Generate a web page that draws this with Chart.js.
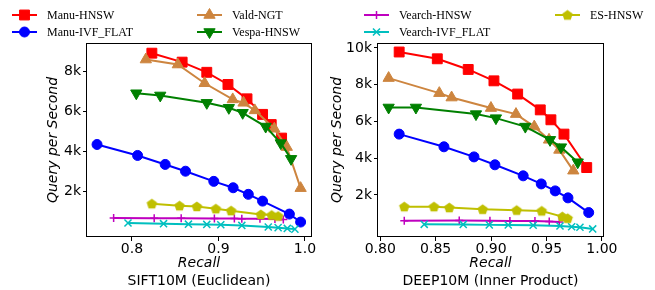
<!DOCTYPE html>
<html><head><meta charset="utf-8">
<script src="https://cdn.jsdelivr.net/npm/chart.js@4"></script>
<style>
html,body{margin:0;padding:0;background:#fff;}
#wrap{position:relative;width:655px;height:290px;overflow:hidden;background:#fff;}
#wrap canvas{position:absolute;top:0;}
</style></head><body>
<div id="wrap">
<canvas id="c1" width="330" height="290" style="left:0px"></canvas>
<canvas id="c2" width="325" height="290" style="left:330px"></canvas>
</div>
<script>
// ---------- data ----------
const seriesNames = ['Manu-HNSW','Manu-IVF_FLAT','Vald-NGT','Vespa-HNSW','Vearch-HNSW','Vearch-IVF_FLAT','ES-HNSW'];

// SIFT10M (Euclidean)
const siftManuHnswRecall = [0.823,0.858,0.8865,0.911,0.933,0.951,0.961,0.973];
const siftManuHnswQps    = [8920,8470,7960,7350,6630,5850,5340,4660];
const siftManuIvfRecall  = [0.7596,0.8065,0.8384,0.8619,0.8946,0.917,0.9345,0.951,0.982,0.995];
const siftManuIvfQps     = [4340,3790,3340,3000,2490,2170,1840,1500,850,450];
const siftValdRecall     = [0.816,0.853,0.884,0.9165,0.929,0.942,0.9646,0.979,0.995];
const siftValdQps        = [8600,8350,7410,6600,6430,6050,5130,4210,2150];
const siftVespaRecall    = [0.805,0.8327,0.8865,0.912,0.928,0.9546,0.972,0.984];
const siftVespaQps       = [6910,6800,6430,6180,5930,5240,4410,3620];
const siftVearchHnswRecall = [0.7788,0.8257,0.8569,0.8953,0.9184,0.927,0.948,0.9653,0.975];
const siftVearchHnswQps    = [650,645,640,630,625,620,610,600,580];
const siftVearchIvfRecall  = [0.7954,0.8365,0.8653,0.8865,0.9027,0.927,0.9576,0.969,0.9796,0.9884];
const siftVearchIvfQps     = [400,370,345,330,315,280,200,170,130,95];
const siftEsRecall       = [0.823,0.855,0.875,0.897,0.9146,0.949,0.9615,0.969];
const siftEsQps          = [1370,1270,1230,1120,1020,830,800,750];

// DEEP10M (Inner Product)
const deepManuHnswRecall = [0.8171,0.8515,0.8794,0.9026,0.924,0.9444,0.954,0.9658,0.9863];
const deepManuHnswQps    = [9780,9410,8830,8210,7490,6630,6090,5310,3490];
const deepManuIvfRecall  = [0.8171,0.8575,0.8846,0.9035,0.929,0.9453,0.9579,0.9694,0.9881];
const deepManuIvfQps     = [5310,4620,4070,3640,3040,2600,2220,1840,1040];
const deepValdRecall     = [0.8076,0.8533,0.8644,0.8999,0.9225,0.939,0.9523,0.9616,0.9742];
const deepValdQps        = [8360,7540,7300,6730,6400,5720,5000,4450,3320];
const deepVespaRecall    = [0.8076,0.8322,0.8864,0.9044,0.9309,0.9532,0.9631,0.9782];
const deepVespaQps       = [6760,6760,6400,6180,5720,5000,4600,3780];
const deepVearchHnswRecall = [0.8217,0.8713,0.899,0.917,0.9396,0.9525,0.9616];
const deepVearchHnswQps    = [600,610,590,585,575,550,530];
const deepVearchIvfRecall  = [0.8397,0.8749,0.8984,0.9155,0.938,0.9622,0.9727,0.9802,0.9917];
const deepVearchIvfQps     = [400,395,370,360,350,310,270,240,150];
const deepEsRecall       = [0.8217,0.8485,0.8623,0.8924,0.9231,0.9457,0.9643,0.9691];
const deepEsQps          = [1360,1360,1310,1220,1170,1130,820,730];

// ticks
const siftXTicks = [0.8, 0.9, 1.0];
const siftXTickLabels = ['0.8','0.9','1.0'];
const siftYTicks = [2000, 4000, 6000, 8000];
const siftYTickLabels = ['2k','4k','6k','8k'];
const deepXTicks = [0.80, 0.85, 0.90, 0.95, 1.00];
const deepXTickLabels = ['0.80','0.85','0.90','0.95','1.00'];
const deepYTicks = [2000, 4000, 6000, 8000, 10000];
const deepYTickLabels = ['2k','4k','6k','8k','10k'];

const xTitle = 'Recall';
const yTitle = 'Query per Second';
const siftSubtitle = 'SIFT10M (Euclidean)';
const deepSubtitle = 'DEEP10M (Inner Product)';

// ---------- styles ----------
function pentagonCanvas(color, r) {
  const c = document.createElement('canvas');
  const s = Math.ceil(r * 2) + 2;
  c.width = s; c.height = s;
  const g = c.getContext('2d');
  g.beginPath();
  for (let k = 0; k < 5; k++) {
    const a = -Math.PI / 2 + k * 2 * Math.PI / 5;
    const px = s / 2 + r * Math.cos(a), py = s / 2 + r * Math.sin(a) + 0.4;
    if (k === 0) g.moveTo(px, py); else g.lineTo(px, py);
  }
  g.closePath();
  g.fillStyle = color; g.fill();
  return c;
}
const styles = [
  {color:'#ff0000', pointStyle:'rect', radius:7, rotation:0},
  {color:'#0000ff', pointStyle:'circle', radius:5, rotation:0},
  {color:'#cd853f', pointStyle:'triangle', radius:6.5, rotation:0},
  {color:'#008000', pointStyle:'triangle', radius:6.5, rotation:180},
  {color:'#bf00bf', pointStyle:'cross', radius:4, rotation:0},
  {color:'#00bfbf', pointStyle:'crossRot', radius:5, rotation:0},
  {color:'#bfbf00', pointStyle:pentagonCanvas('#bfbf00', 5.5), radius:5.5, rotation:0},
];

function toPoints(xs, ys) { return xs.map((x, i) => ({x: x, y: ys[i]})); }

function buildDatasets(pairs) {
  return pairs.map((p, i) => {
    const st = styles[i];
    const isLineMarker = st.pointStyle === 'cross' || st.pointStyle === 'crossRot';
    return {
      label: seriesNames[i],
      data: toPoints(p[0], p[1]),
      borderColor: st.color,
      backgroundColor: st.color,
      borderWidth: 2,
      pointStyle: st.pointStyle,
      pointRadius: st.radius,
      pointRotation: st.rotation,
      pointBorderWidth: isLineMarker ? 1.5 : 1,
      pointBorderColor: st.color,
      pointBackgroundColor: st.color,
      tension: 0,
      fill: false,
      clip: false,
      order: -i
    };
  });
}

const FONT = '"DejaVu Sans", "Liberation Sans", sans-serif';

const framePlugin = {
  id: 'frame',
  afterDatasetsDraw(chart) {
    const a = chart.chartArea, ctx = chart.ctx;
    ctx.save();
    ctx.strokeStyle = '#000';
    ctx.lineWidth = 1;
    ctx.strokeRect(Math.round(a.left) - 0.5, Math.round(a.top) + 0.5,
                   Math.round(a.right) - Math.round(a.left) + 1, Math.round(a.bottom) - Math.round(a.top) - 1);
    ctx.restore();
  }
};

function drawMarker(ctx, st, x, y) {
  ctx.save();
  ctx.fillStyle = st.color; ctx.strokeStyle = st.color;
  const isLineMarker = st.pointStyle === 'cross' || st.pointStyle === 'crossRot';
  ctx.lineWidth = isLineMarker ? 1.5 : 1;
  Chart.helpers.drawPoint(ctx, {pointStyle: st.pointStyle, rotation: st.rotation, radius: st.radius, borderWidth: ctx.lineWidth}, x, y);
  ctx.restore();
}

const legendPlugin = {
  id: 'ownLegend',
  afterDraw(chart, args, opts) {
    const ctx = chart.ctx;
    (opts.entries || []).forEach(e => {
      const st = styles[e.i];
      ctx.save();
      ctx.strokeStyle = st.color; ctx.lineWidth = 2;
      ctx.beginPath(); ctx.moveTo(e.x, e.y); ctx.lineTo(e.x + 25, e.y); ctx.stroke();
      ctx.restore();
      drawMarker(ctx, st, e.x + 12.5, e.y);
      ctx.save();
      ctx.fillStyle = '#000';
      ctx.font = '12px "Liberation Serif", "Times New Roman", serif';
      ctx.textBaseline = 'middle'; ctx.textAlign = 'left';
      ctx.fillText(seriesNames[e.i], e.x + 35, e.y + 0.5);
      ctx.restore();
    });
  }
};

const subtitlePlugin = {
  id: 'bottomTitle',
  afterDraw(chart, args, opts) {
    const ctx = chart.ctx, a = chart.chartArea;
    ctx.save();
    ctx.fillStyle = '#000';
    ctx.font = '14px ' + FONT;
    ctx.textAlign = 'center'; ctx.textBaseline = 'middle';
    ctx.fillText(opts.text, (a.left + a.right) / 2, opts.y);
    ctx.restore();
  }
};

function makeChart(id, cfg) {
  const tickFont = {family: FONT, size: 14};
  return new Chart(document.getElementById(id), {
    type: 'line',
    data: {datasets: buildDatasets(cfg.pairs)},
    options: {
      responsive: false,
      animation: false,
      devicePixelRatio: 1,
      layout: {padding: {left: 0, right: cfg.padRight, top: 43, bottom: 0}},
      plugins: {
        legend: {display: false},
        tooltip: {enabled: false},
        ownLegend: {entries: cfg.legend},
        bottomTitle: {text: cfg.subtitle, y: 281}
      },
      scales: {
        x: {
          type: 'linear', position: 'bottom',
          min: cfg.xMin, max: cfg.xMax,
          afterFit: s => { s.height = 53; },
          afterBuildTicks: s => { s.ticks = cfg.xTicks.map(v => ({value: v})); },
          ticks: {callback: (v, i) => cfg.xTickLabels[i], font: tickFont, color: '#000', padding: 0, maxRotation: 0, autoSkip: false},
          grid: {drawOnChartArea: false, drawTicks: true, tickLength: 4, color: '#000', tickColor: '#000', tickWidth: 1},
          border: {display: false},
          title: {display: true, text: xTitle, color: '#000', font: {family: FONT, size: 14, style: 'italic', lineHeight: 1}, padding: {top: 0, bottom: 20}}
        },
        y: {
          type: 'linear', position: 'left',
          min: cfg.yMin, max: cfg.yMax,
          afterFit: s => { s.width = cfg.yWidth; },
          afterBuildTicks: s => { s.ticks = cfg.yTicks.map(v => ({value: v})); },
          ticks: {callback: (v, i) => cfg.yTickLabels[i], font: tickFont, color: '#000', padding: 2, autoSkip: false},
          grid: {drawOnChartArea: false, drawTicks: true, tickLength: 4, color: '#000', tickColor: '#000', tickWidth: 1},
          border: {display: false},
          title: {display: true, text: yTitle, color: '#000', font: {family: FONT, size: 14, style: 'italic', lineHeight: 1}, padding: {top: cfg.yTitlePad, bottom: 0}}
        }
      }
    },
    plugins: [framePlugin, legendPlugin, subtitlePlugin]
  });
}

makeChart('c1', {
  pairs: [
    [siftManuHnswRecall, siftManuHnswQps],
    [siftManuIvfRecall, siftManuIvfQps],
    [siftValdRecall, siftValdQps],
    [siftVespaRecall, siftVespaQps],
    [siftVearchHnswRecall, siftVearchHnswQps],
    [siftVearchIvfRecall, siftVearchIvfQps],
    [siftEsRecall, siftEsQps]
  ],
  xMin: 0.748, xMax: 1.007, yMin: -300, yMax: 9430,
  xTicks: siftXTicks, xTickLabels: siftXTickLabels,
  yTicks: siftYTicks, yTickLabels: siftYTickLabels,
  padRight: 19, yWidth: 87, yTitlePad: 46.5,
  subtitle: siftSubtitle,
  legend: [
    {i: 0, x: 12, y: 15}, {i: 1, x: 12, y: 32},
    {i: 2, x: 197, y: 15}, {i: 3, x: 197, y: 32}
  ]
});

makeChart('c2', {
  pairs: [
    [deepManuHnswRecall, deepManuHnswQps],
    [deepManuIvfRecall, deepManuIvfQps],
    [deepValdRecall, deepValdQps],
    [deepVespaRecall, deepVespaQps],
    [deepVearchHnswRecall, deepVearchHnswQps],
    [deepVearchIvfRecall, deepVearchIvfQps],
    [deepEsRecall, deepEsQps]
  ],
  xMin: 0.798, xMax: 1.001, yMin: -290, yMax: 10270,
  xTicks: deepXTicks, xTickLabels: deepXTickLabels,
  yTicks: deepYTicks, yTickLabels: deepYTickLabels,
  padRight: 52, yWidth: 48, yTitlePad: 0,
  subtitle: deepSubtitle,
  legend: [
    {i: 4, x: 34, y: 15}, {i: 5, x: 34, y: 32},
    {i: 6, x: 225, y: 15}
  ]
});
</script>
</body></html>
